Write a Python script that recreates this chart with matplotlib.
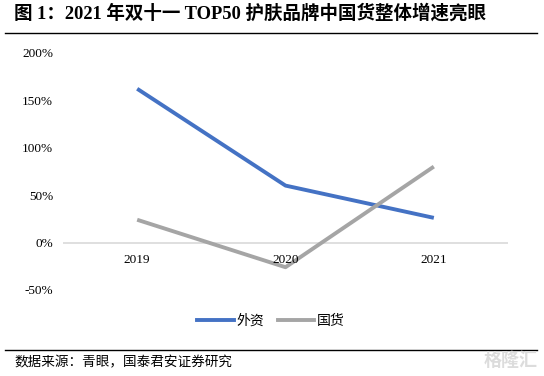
import matplotlib.pyplot as plt
from matplotlib.lines import Line2D

years = ['2019', '2020', '2021']
foreign = [162, 60, 26]      # 外资
domestic = [24, -26, 80]     # 国货
yticks = [-50, 0, 50, 100, 150, 200]

cjk = ['Liberation Serif', 'Noto Sans CJK SC', 'DejaVu Sans']
plt.rcParams['font.family'] = cjk

fig = plt.figure(figsize=(5.44, 3.76), dpi=100)
ax = fig.add_axes([63 / 544, 1 - 290 / 376, 445 / 544, 237.3 / 376])

x = list(range(len(years)))
ax.axhline(0, color='#d9d9d9', lw=1.2, zorder=1)
ax.plot(x, foreign, color='#4472c4', lw=2.8, solid_capstyle='butt', label='外资', zorder=3)
ax.plot(x, domestic, color='#a5a5a5', lw=2.8, solid_capstyle='butt', label='国货', zorder=3)

ax.set_xlim(-0.5, 2.5)
ax.set_ylim(-50, 200)
ax.set_yticks(yticks)
ax.set_yticklabels([f'{v}%' for v in yticks], family='Liberation Serif', fontsize=9.5)
ax.set_xticks([])
ax.tick_params(length=0)
ax.tick_params(axis='y', pad=7)
for s in ax.spines.values():
    s.set_visible(False)

# year labels sit just under the 0% line
for xi, yr in zip(x, years):
    ax.text(xi, -18, yr, ha='center', va='center', fontsize=9.5, family='Liberation Serif')

handles = [Line2D([], [], color='#4472c4', lw=2.8), Line2D([], [], color='#a5a5a5', lw=2.8)]
fig.legend(handles, ['外资', '国货'], loc='center', bbox_to_anchor=(271 / 544, 1 - 321 / 376),
           ncol=2, frameon=False, handlelength=2.6, handletextpad=0.2,
           columnspacing=1.0, prop={'family': cjk, 'size': 10})

fig.text(14 / 544, 1 - 13 / 376, '图 1：2021 年双十一 TOP50 护肤品牌中国货整体增速亮眼',
         fontsize=13.3, fontweight='bold', va='center', ha='left', family=cjk)
fig.add_artist(Line2D([5 / 544, 537 / 544], [1 - 33 / 376, 1 - 33 / 376], color='black', lw=1.0))
fig.add_artist(Line2D([5 / 544, 537 / 544], [1 - 350 / 376, 1 - 350 / 376], color='black', lw=1.0))
fig.text(14 / 544, 1 - 363 / 376, '数据来源：青眼，国泰君安证券研究',
         fontsize=9.8, va='center', ha='left', family=cjk)
fig.text(538 / 544, 1 - 361 / 376, '格隆汇', fontsize=13, fontweight='bold', va='center', ha='right',
         color='#dcdcdc', family=cjk)

fig.savefig('out.png', dpi=100)
